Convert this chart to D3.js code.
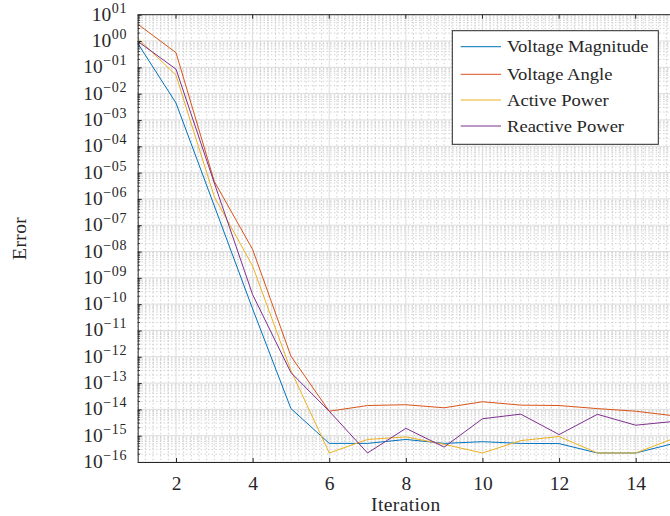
<!DOCTYPE html>
<html>
<head>
<meta charset="utf-8">
<script src="https://cdn.jsdelivr.net/npm/d3@7"></script>
<style>
  html, body { margin: 0; padding: 0; background: #fff; }
  svg { display: block; font-family: "Liberation Serif", "DejaVu Serif", serif; }
</style>
</head>
<body>
<div id="chart"></div>
<script>
const iterations = [1, 2, 3, 4, 5, 6, 7, 8, 9, 10, 11, 12, 13, 14, 15];
const voltageMagnitude = [0.82, 4.4e-3, 5.4e-7, 6.6e-11, 1.07e-14, 5.1e-16, 5.1e-16, 7.2e-16, 5.1e-16, 5.9e-16, 5.1e-16, 5.0e-16, 2.2e-16, 2.2e-16, 5.1e-16];
const voltageAngle = [4.4, 0.36, 4.6e-6, 1.2e-8, 1.05e-12, 8.5e-15, 1.4e-14, 1.5e-14, 1.15e-14, 1.95e-14, 1.45e-14, 1.4e-14, 1.07e-14, 8.5e-15, 5.7e-15];
const activePower = [1.27, 0.05, 1.2e-6, 2.8e-9, 3.0e-13, 2.2e-16, 7.2e-16, 9.0e-16, 4.7e-16, 2.2e-16, 6.5e-16, 9.3e-16, 2.2e-16, 2.2e-16, 7.9e-16];
const reactivePower = [0.98, 0.085, 4.0e-6, 2.3e-10, 2.5e-13, 8.5e-15, 2.2e-16, 1.9e-15, 3.7e-16, 4.4e-15, 6.6e-15, 1.1e-15, 6.5e-15, 2.5e-15, 3.5e-15];
const seriesNames = ['Voltage Magnitude', 'Voltage Angle', 'Active Power', 'Reactive Power'];
const xTicks = [2, 4, 6, 8, 10, 12, 14];
const yExponents = [1, 0, -1, -2, -3, -4, -5, -6, -7, -8, -9, -10, -11, -12, -13, -14, -15, -16];

const colors = ['#0072BD', '#D95319', '#EDB120', '#7E2F8E'];
const allSeries = [voltageMagnitude, voltageAngle, activePower, reactivePower];

const W = 670, H = 516;
const plotL = 137.7, plotR = 674, plotT = 14.7, plotB = 462;

const svg = d3.select('#chart').append('svg')
  .attr('width', W)
  .attr('height', H);

const x = d3.scaleLinear().domain([1, 15]).range([plotL, plotR]);
const y = d3.scaleLog().domain([1e-16, 1e1]).range([plotB, plotT]);

const grid = svg.append('g');

// minor grid (dotted)
const xMinor = d3.range(1, 15.001, 0.2).filter(v => Math.abs(v / 2 - Math.round(v / 2)) > 0.01);
grid.selectAll('line.xminor').data(xMinor).join('line')
  .attr('x1', d => x(d)).attr('x2', d => x(d))
  .attr('y1', plotT).attr('y2', plotB)
  .attr('stroke', '#c4c4c4').attr('stroke-width', 0.8)
  .attr('stroke-dasharray', '1.5,2.2');

const yMinor = [];
yExponents.slice(1).forEach(e => { for (let k = 2; k <= 9; k++) yMinor.push(k * Math.pow(10, e)); });
grid.selectAll('line.yminor').data(yMinor).join('line')
  .attr('x1', plotL).attr('x2', plotR)
  .attr('y1', d => y(d)).attr('y2', d => y(d))
  .attr('stroke', '#c4c4c4').attr('stroke-width', 0.8)
  .attr('stroke-dasharray', '1.5,2.2');

// major grid
grid.selectAll('line.xmajor').data(xTicks).join('line')
  .attr('x1', d => x(d)).attr('x2', d => x(d))
  .attr('y1', plotT).attr('y2', plotB)
  .attr('stroke', '#dcdcdc').attr('stroke-width', 1);

grid.selectAll('line.ymajor').data(yExponents).join('line')
  .attr('x1', plotL).attr('x2', plotR)
  .attr('y1', d => y(Math.pow(10, d))).attr('y2', d => y(Math.pow(10, d)))
  .attr('stroke', '#dcdcdc').attr('stroke-width', 1);

// lines
const line = d3.line()
  .x((d, i) => x(iterations[i]))
  .y(d => y(d));

svg.append('g').selectAll('path').data(allSeries).join('path')
  .attr('d', d => line(d))
  .attr('fill', 'none')
  .attr('stroke', (d, i) => colors[i])
  .attr('stroke-width', 1);

// axes
const axisColor = '#262626';
const fmtExp = e => (e < 0 ? '\u2212' : '') + String(Math.abs(e)).padStart(2, '0');

const yAxis = svg.append('g').attr('transform', `translate(${plotL},0)`)
  .call(d3.axisLeft(y).tickValues(yExponents.map(e => Math.pow(10, e))).tickSizeInner(-4).tickSizeOuter(0).tickFormat(''));
yAxis.select('.domain').attr('stroke', axisColor);
yAxis.selectAll('.tick line').attr('stroke', axisColor);

svg.append('g').selectAll('line').data(yMinor).join('line')
  .attr('x1', plotL).attr('x2', plotL + 2.5)
  .attr('y1', d => y(d)).attr('y2', d => y(d))
  .attr('stroke', axisColor).attr('stroke-width', 0.8);

const yLabels = svg.append('g').selectAll('text').data(yExponents).join('text')
  .attr('x', 127)
  .attr('y', d => y(Math.pow(10, d)) + 6)
  .attr('text-anchor', 'end')
  .attr('fill', '#262626')
  .style('font-size', '19.5px');
yLabels.append('tspan').text('10');
yLabels.append('tspan')
  .attr('dy', -8)
  .attr('dx', 0.5)
  .style('font-size', '14px')
  .style('letter-spacing', '0.6px')
  .text(d => fmtExp(d));

const xAxis = svg.append('g').attr('transform', `translate(0,${plotB})`)
  .call(d3.axisBottom(x).tickValues(xTicks).tickSizeInner(-4).tickSizeOuter(0).tickPadding(14));
xAxis.select('.domain').attr('stroke', axisColor);
xAxis.selectAll('.tick line').attr('stroke', axisColor);
xAxis.selectAll('.tick text')
  .attr('fill', '#262626')
  .style('font-family', '"Liberation Serif", serif')
  .style('font-size', '19.5px');

// top box edge with ticks
svg.append('line')
  .attr('x1', plotL).attr('x2', plotR).attr('y1', plotT).attr('y2', plotT)
  .attr('stroke', axisColor);
svg.append('g').selectAll('line').data(xTicks).join('line')
  .attr('x1', d => x(d)).attr('x2', d => x(d))
  .attr('y1', plotT).attr('y2', plotT + 4)
  .attr('stroke', axisColor);

// axis titles
svg.append('text')
  .attr('x', x(8))
  .attr('y', 511)
  .attr('text-anchor', 'middle')
  .attr('fill', '#262626')
  .style('font-size', '19.5px')
  .style('letter-spacing', '0.4px')
  .text('Iteration');

svg.append('text')
  .attr('transform', `translate(26,${(plotT + plotB) / 2}) rotate(-90)`)
  .attr('text-anchor', 'middle')
  .attr('fill', '#262626')
  .style('font-size', '19.5px')
  .style('letter-spacing', '0.4px')
  .text('Error');

// legend
const legend = svg.append('g');
legend.append('rect')
  .attr('x', 452.3).attr('y', 30.7)
  .attr('width', 206).attr('height', 113.6)
  .attr('fill', '#fff')
  .attr('stroke', axisColor).attr('stroke-width', 1);

const rowY = [46.7, 74.3, 100, 126];
const legendTexts = [];
seriesNames.forEach((name, i) => {
  legend.append('line')
    .attr('x1', 460.7).attr('x2', 501)
    .attr('y1', rowY[i]).attr('y2', rowY[i])
    .attr('stroke', colors[i]).attr('stroke-width', 1);
  legendTexts.push(legend.append('text')
    .attr('x', 507)
    .attr('y', rowY[i] + 5.5)
    .attr('fill', '#262626')
    .style('font-size', '17px')
    .text(name));
});
// stretch legend text to the wider look of the original font
const stretch = 141.5 / legendTexts[0].node().getComputedTextLength();
legendTexts.forEach(t => {
  t.attr('textLength', t.node().getComputedTextLength() * stretch)
   .attr('lengthAdjust', 'spacingAndGlyphs');
});
</script>
</body>
</html>
